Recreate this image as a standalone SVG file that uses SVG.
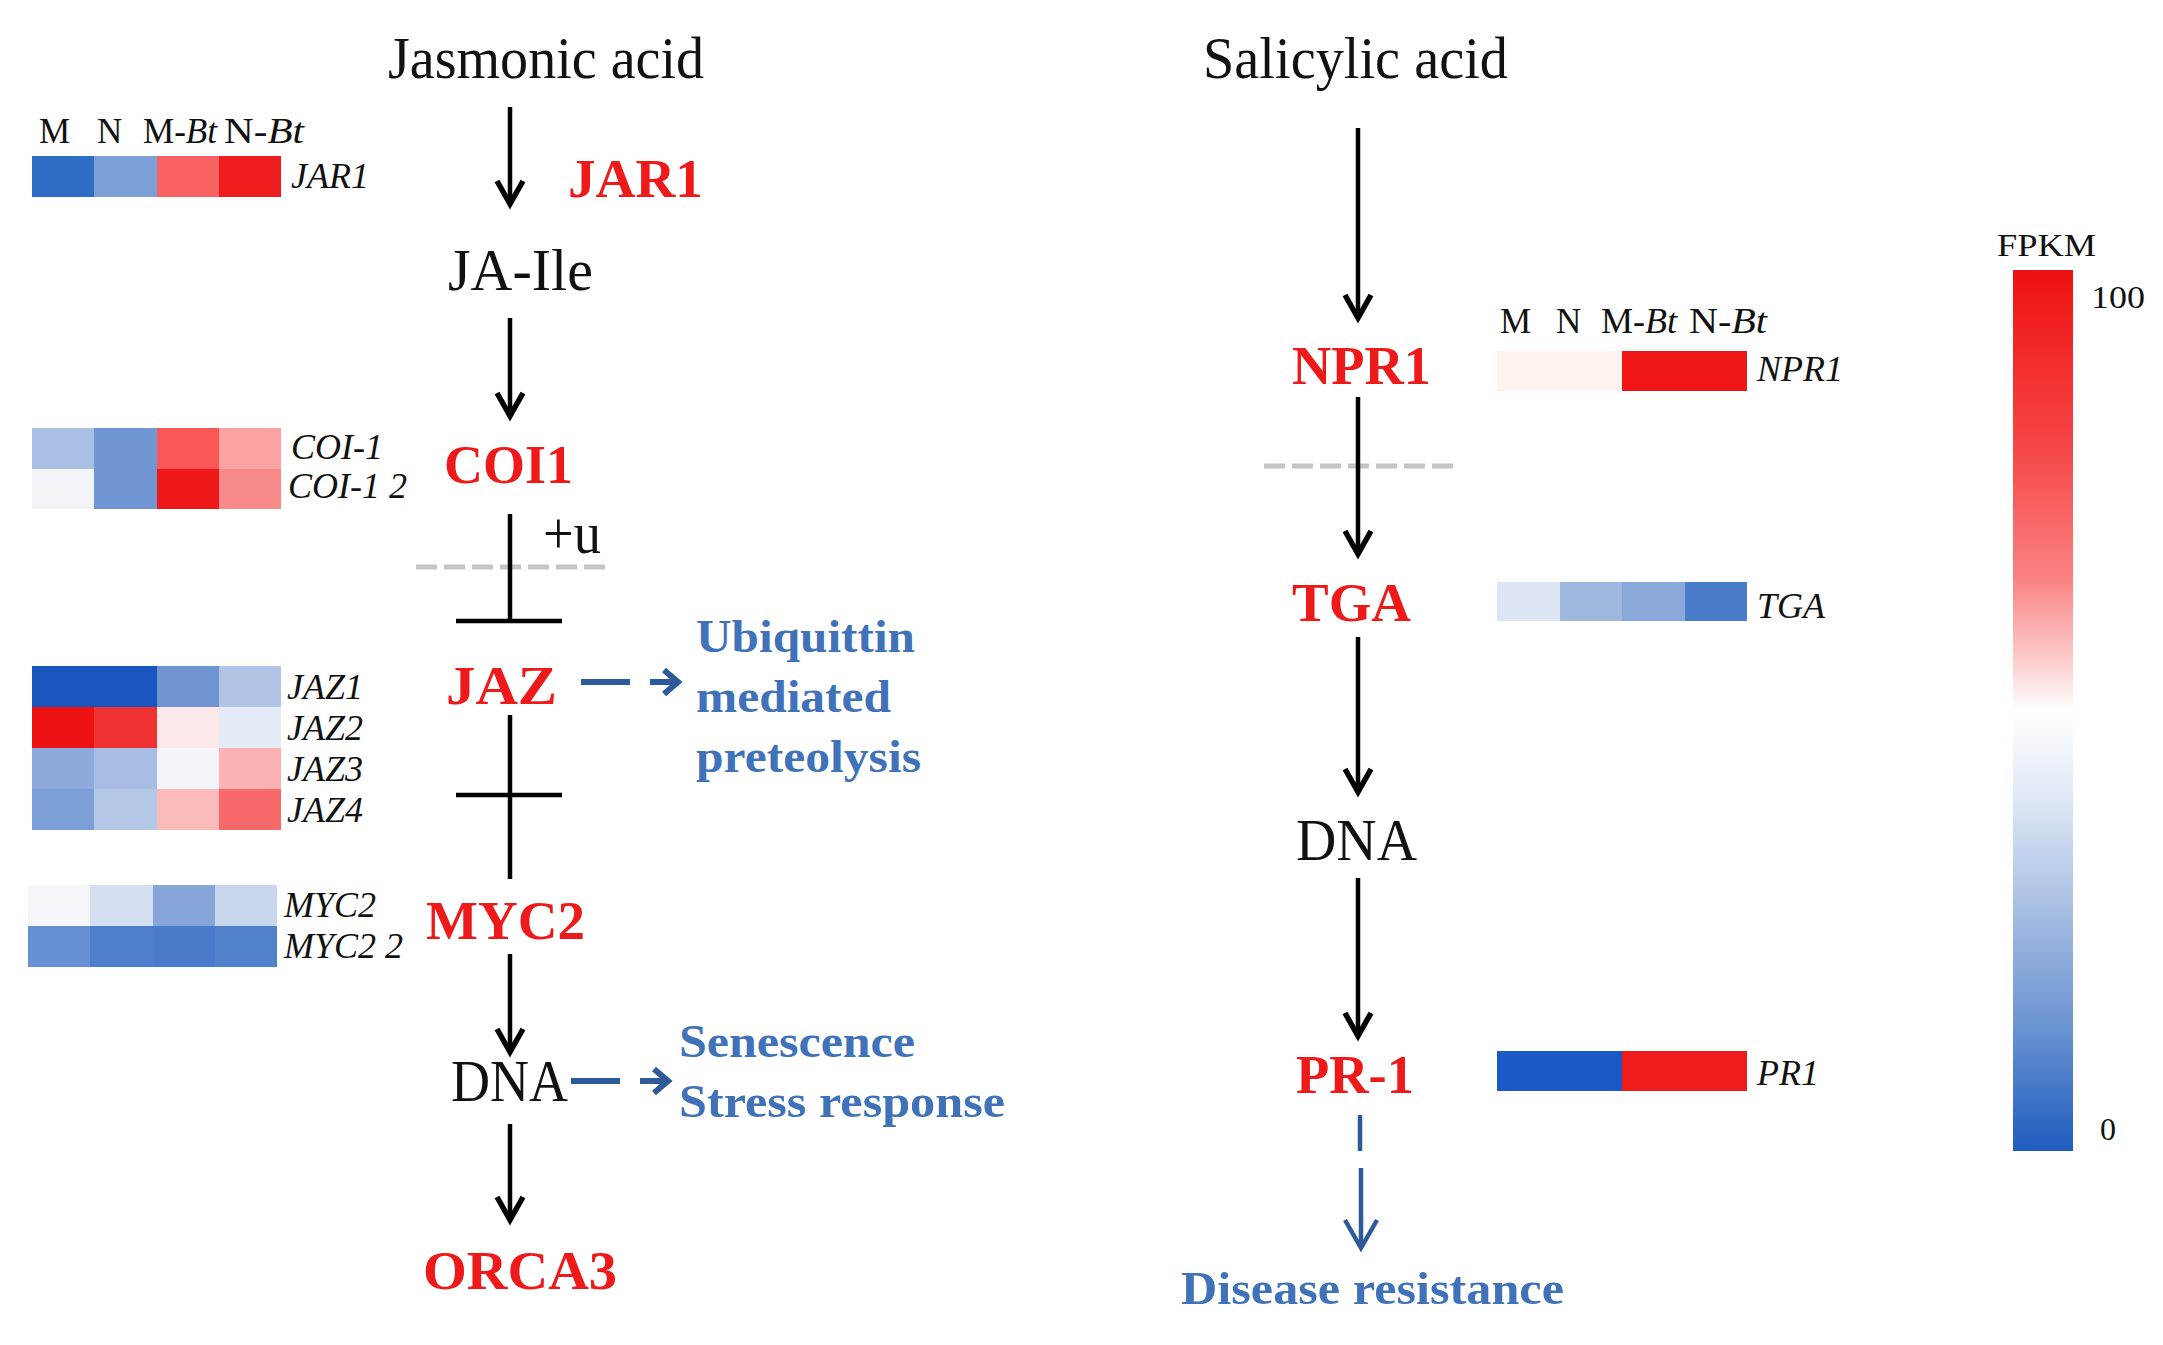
<svg xmlns="http://www.w3.org/2000/svg" width="2163" height="1345" viewBox="0 0 2163 1345">
<defs>
<style>
text{font-family:"Liberation Serif","Times New Roman",serif;}
.t{font-size:60px;fill:#111;}
.r{font-size:55px;font-weight:bold;fill:#ee1a1a;}
.b{font-size:46px;font-weight:bold;fill:#3f72b8;}
.s{font-size:36px;font-style:italic;fill:#111;}
.h{font-size:35px;fill:#111;}
.lg{font-size:32px;fill:#111;}
.k{stroke:#000;stroke-width:4.5;fill:none;}
.kh{stroke:#000;stroke-width:5.5;fill:none;stroke-linejoin:miter;}
.g{stroke:#c4c4c4;stroke-width:5;stroke-dasharray:21 7;fill:none;}
.bl{stroke:#2f5a9a;stroke-width:6;fill:none;}
</style>
<linearGradient id="fpkm" x1="0" y1="0" x2="0" y2="1">
<stop offset="0" stop-color="#ee1010"/>
<stop offset="0.2" stop-color="#f64646"/>
<stop offset="0.35" stop-color="#fa8282"/>
<stop offset="0.45" stop-color="#fdd2d2"/>
<stop offset="0.5" stop-color="#ffffff"/>
<stop offset="0.6" stop-color="#dfe8f5"/>
<stop offset="0.72" stop-color="#a9c0e4"/>
<stop offset="0.86" stop-color="#6a93d2"/>
<stop offset="1" stop-color="#1f5cbe"/>
</linearGradient>
</defs>
<rect width="2163" height="1345" fill="#fff"/>

<g id="connectors">
<line class="g" x1="416" y1="567" x2="610" y2="567"/>
<line class="g" x1="1264" y1="466" x2="1459" y2="466"/>
<line class="k" x1="510" y1="107" x2="510" y2="202"/>
<path class="kh" d="M497,181 L510,204 L523,181"/>
<line class="k" x1="510" y1="318" x2="510" y2="414"/>
<path class="kh" d="M497,393 L510,416 L523,393"/>
<line class="k" x1="510" y1="514" x2="510" y2="621"/>
<line class="k" x1="456" y1="621" x2="562" y2="621"/>
<line class="k" x1="510" y1="715" x2="510" y2="879"/>
<line class="k" x1="456" y1="795" x2="562" y2="795"/>
<line class="k" x1="510" y1="954" x2="510" y2="1050"/>
<path class="kh" d="M497,1029 L510,1052 L523,1029"/>
<line class="k" x1="510" y1="1124" x2="510" y2="1218"/>
<path class="kh" d="M497,1197 L510,1220 L523,1197"/>
<line class="bl" x1="581" y1="682" x2="630" y2="682"/>
<line class="bl" x1="650" y1="682" x2="674" y2="682"/>
<path class="bl" d="M664,670 L678,682 L664,694"/>
<line class="bl" x1="571" y1="1081" x2="620" y2="1081"/>
<line class="bl" x1="640" y1="1081" x2="664" y2="1081"/>
<path class="bl" d="M654,1069 L668,1081 L654,1093"/>
<line class="k" x1="1358" y1="128" x2="1358" y2="316"/>
<path class="kh" d="M1345,295 L1358,318 L1371,295"/>
<line class="k" x1="1358" y1="397" x2="1358" y2="552"/>
<path class="kh" d="M1345,531 L1358,554 L1371,531"/>
<line class="k" x1="1358" y1="637" x2="1358" y2="790"/>
<path class="kh" d="M1345,769 L1358,792 L1371,769"/>
<line class="k" x1="1358" y1="878" x2="1358" y2="1034"/>
<path class="kh" d="M1345,1013 L1358,1036 L1371,1013"/>
<line x1="1360" y1="1115" x2="1360" y2="1151" stroke="#2f5a9a" stroke-width="4.5"/>
<line x1="1361" y1="1168" x2="1361" y2="1246" stroke="#2f5a9a" stroke-width="4.5"/>
<path d="M1345,1220 L1361,1248 L1377,1220" stroke="#2f5a9a" stroke-width="4.5" fill="none"/>
</g>

<g id="title-ja"><text class="t" x="388" y="78" textLength="316" lengthAdjust="spacingAndGlyphs">Jasmonic acid</text></g>
<g id="title-sa"><text class="t" x="1203" y="78" textLength="305" lengthAdjust="spacingAndGlyphs">Salicylic acid</text></g>

<g id="jar1-heatmap">
<text class="h" x="39" y="143">M</text>
<text class="h" x="97" y="143">N</text>
<text class="h" x="143" y="143" textLength="74" lengthAdjust="spacingAndGlyphs">M-<tspan font-style="italic">Bt</tspan></text>
<text class="h" x="224" y="143" textLength="80" lengthAdjust="spacingAndGlyphs">N-<tspan font-style="italic">Bt</tspan></text>
<rect x="32" y="156" width="62" height="41" fill="#2f6cc4"/>
<rect x="94" y="156" width="63" height="41" fill="#7b9fd6"/>
<rect x="157" y="156" width="62" height="41" fill="#f86262"/>
<rect x="219" y="156" width="62" height="41" fill="#ee1c1c"/>
<text class="s" x="291" y="188">JAR1</text>
</g>
<g id="jar1"><text class="r" x="568" y="197" textLength="135" lengthAdjust="spacingAndGlyphs">JAR1</text></g>
<g id="ja-ile"><text class="t" x="448" y="290" font-size="58" textLength="145" lengthAdjust="spacingAndGlyphs">JA-Ile</text></g>

<g id="coi1-heatmap">
<rect x="32" y="428" width="62" height="41" fill="#a9bfe3"/>
<rect x="94" y="428" width="63" height="41" fill="#7096d3"/>
<rect x="157" y="428" width="62" height="41" fill="#f95656"/>
<rect x="219" y="428" width="62" height="41" fill="#fca2a2"/>
<rect x="32" y="469" width="62" height="40" fill="#f2f4f8"/>
<rect x="94" y="469" width="63" height="40" fill="#7096d3"/>
<rect x="157" y="469" width="62" height="40" fill="#ee1818"/>
<rect x="219" y="469" width="62" height="40" fill="#f98a8a"/>
<text class="s" x="291" y="459">COI-1</text>
<text class="s" x="288" y="498">COI-1 2</text>
</g>
<g id="coi1"><text class="r" x="444" y="483" textLength="129" lengthAdjust="spacingAndGlyphs">COI1</text></g>
<g id="plus-u"><text class="t" x="543" y="553" font-size="50" textLength="58" lengthAdjust="spacingAndGlyphs">+u</text></g>

<g id="jaz-heatmap">
<rect x="32" y="666" width="62" height="41" fill="#1a56c0"/>
<rect x="94" y="666" width="63" height="41" fill="#1a56c0"/>
<rect x="157" y="666" width="62" height="41" fill="#6f94d2"/>
<rect x="219" y="666" width="62" height="41" fill="#b0c4e6"/>
<rect x="32" y="707" width="62" height="41" fill="#ee1212"/>
<rect x="94" y="707" width="63" height="41" fill="#f03232"/>
<rect x="157" y="707" width="62" height="41" fill="#fce8e8"/>
<rect x="219" y="707" width="62" height="41" fill="#e4eaf6"/>
<rect x="32" y="748" width="62" height="41" fill="#8eaadc"/>
<rect x="94" y="748" width="63" height="41" fill="#a8bde4"/>
<rect x="157" y="748" width="62" height="41" fill="#f2f4fa"/>
<rect x="219" y="748" width="62" height="41" fill="#fbb2b2"/>
<rect x="32" y="789" width="62" height="41" fill="#7d9fd8"/>
<rect x="94" y="789" width="63" height="41" fill="#b4c8e8"/>
<rect x="157" y="789" width="62" height="41" fill="#fbbaba"/>
<rect x="219" y="789" width="62" height="41" fill="#f86a6a"/>
<text class="s" x="287" y="699">JAZ1</text>
<text class="s" x="287" y="740">JAZ2</text>
<text class="s" x="287" y="781">JAZ3</text>
<text class="s" x="287" y="822">JAZ4</text>
</g>
<g id="jaz"><text class="r" x="446" y="704" textLength="111" lengthAdjust="spacingAndGlyphs">JAZ</text></g>
<g id="ubiquitin">
<text class="b" x="696" y="652" textLength="219" lengthAdjust="spacingAndGlyphs">Ubiquittin</text>
<text class="b" x="696" y="712" textLength="195" lengthAdjust="spacingAndGlyphs">mediated</text>
<text class="b" x="696" y="772" textLength="225" lengthAdjust="spacingAndGlyphs">preteolysis</text>
</g>

<g id="myc2-heatmap">
<rect x="28" y="885" width="62" height="41" fill="#f4f6fa"/>
<rect x="90" y="885" width="63" height="41" fill="#d4e0f2"/>
<rect x="153" y="885" width="62" height="41" fill="#86a6da"/>
<rect x="215" y="885" width="62" height="41" fill="#c8d6ee"/>
<rect x="28" y="926" width="62" height="41" fill="#6690d2"/>
<rect x="90" y="926" width="63" height="41" fill="#4c7ecc"/>
<rect x="153" y="926" width="62" height="41" fill="#4a7ccb"/>
<rect x="215" y="926" width="62" height="41" fill="#5082cc"/>
<text class="s" x="284" y="917">MYC2</text>
<text class="s" x="284" y="958">MYC2 2</text>
</g>
<g id="myc2"><text class="r" x="426" y="939" textLength="159" lengthAdjust="spacingAndGlyphs">MYC2</text></g>
<g id="dna-ja"><text class="t" x="451" y="1101" font-size="58" textLength="117" lengthAdjust="spacingAndGlyphs">DNA</text></g>
<g id="senescence">
<text class="b" x="679" y="1057" textLength="236" lengthAdjust="spacingAndGlyphs">Senescence</text>
<text class="b" x="679" y="1117" textLength="326" lengthAdjust="spacingAndGlyphs">Stress response</text>
</g>
<g id="orca3"><text class="r" x="423" y="1289" textLength="194" lengthAdjust="spacingAndGlyphs">ORCA3</text></g>

<g id="npr1"><text class="r" x="1292" y="384" textLength="139" lengthAdjust="spacingAndGlyphs">NPR1</text></g>
<g id="npr1-heatmap">
<text class="h" x="1500" y="333">M</text>
<text class="h" x="1556" y="333">N</text>
<text class="h" x="1601" y="333" textLength="76" lengthAdjust="spacingAndGlyphs">M-<tspan font-style="italic">Bt</tspan></text>
<text class="h" x="1689" y="333" textLength="78" lengthAdjust="spacingAndGlyphs">N-<tspan font-style="italic">Bt</tspan></text>
<rect x="1497" y="351" width="125" height="40" fill="#fff3f0"/>
<rect x="1622" y="351" width="125" height="40" fill="#ef1616"/>
<text class="s" x="1757" y="381">NPR1</text>
</g>
<g id="tga"><text class="r" x="1292" y="621" textLength="119" lengthAdjust="spacingAndGlyphs">TGA</text></g>
<g id="tga-heatmap">
<rect x="1497" y="582" width="63" height="39" fill="#dce5f3"/>
<rect x="1560" y="582" width="62" height="39" fill="#a0b8e0"/>
<rect x="1622" y="582" width="63" height="39" fill="#8aa8da"/>
<rect x="1685" y="582" width="62" height="39" fill="#4a7ccc"/>
<text class="s" x="1757" y="618">TGA</text>
</g>
<g id="dna-sa"><text class="t" x="1296" y="860" font-size="58" textLength="121" lengthAdjust="spacingAndGlyphs">DNA</text></g>
<g id="pr1"><text class="r" x="1296" y="1093" textLength="118" lengthAdjust="spacingAndGlyphs">PR-1</text></g>
<g id="pr1-heatmap">
<rect x="1497" y="1051" width="125" height="40" fill="#1a5ac6"/>
<rect x="1622" y="1051" width="125" height="40" fill="#ef1a1a"/>
<text class="s" x="1757" y="1085">PR1</text>
</g>
<g id="disease"><text class="b" x="1181" y="1304" textLength="383" lengthAdjust="spacingAndGlyphs">Disease resistance</text></g>

<g id="legend">
<text class="lg" x="1997" y="256" textLength="99" lengthAdjust="spacingAndGlyphs">FPKM</text>
<rect x="2013" y="270" width="60" height="881" fill="url(#fpkm)"/>
<text class="lg" x="2091" y="308" textLength="54" lengthAdjust="spacingAndGlyphs">100</text>
<text class="lg" x="2100" y="1140">0</text>
</g>
</svg>
